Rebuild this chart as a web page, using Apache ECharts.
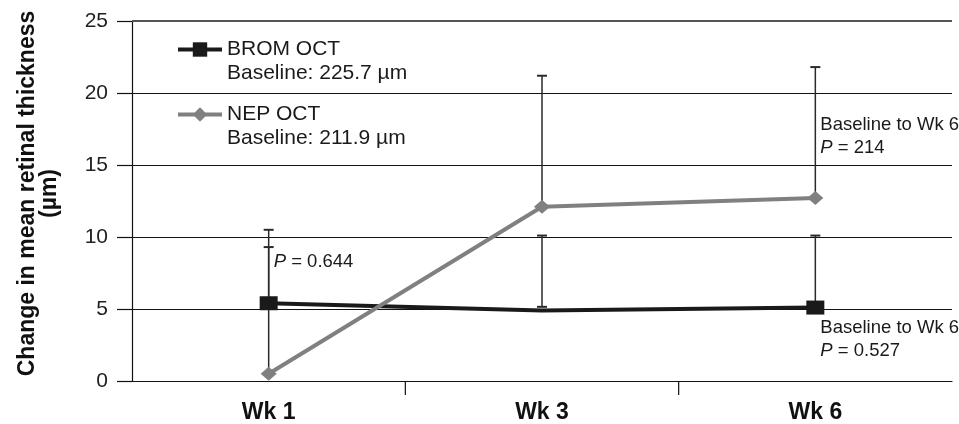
<!DOCTYPE html>
<html><head><meta charset="utf-8">
<script src="https://cdn.jsdelivr.net/npm/echarts@6/dist/echarts.min.js"></script>
<style>html,body{margin:0;padding:0;background:#fff}#c{width:959px;height:424px}</style>
</head><body><div id="c"></div>
<script>
const categories = ['Wk 1', 'Wk 3', 'Wk 6'];
const bromMean = [5.4, 4.9, 5.1];
const bromLow = [5.4, 5.15, 5.1];
const bromHigh = [9.3, 10.1, 10.1];
const nepMean = [0.5, 12.1, 12.7];
const nepHigh = [10.5, 21.2, 21.8];
const yTickValues = [0, 5, 10, 15, 20, 25];
const seriesNames = ['BROM OCT', 'NEP OCT'];
const baselineTexts = ['Baseline: 225.7 µm', 'Baseline: 211.9 µm'];
const yTitle = 'Change in mean retinal thickness\n(µm)';
const annotations = [
  { cat: 'Wk 1', y: 8.3, text: '{i|P} = 0.644' },
  { cat: 'Wk 6', y: 17.0, text: 'Baseline to Wk 6\n{i|P} = 214' },
  { cat: 'Wk 6', y: 2.9, text: 'Baseline to Wk 6\n{i|P} = 0.527' }
];

const FONT = 'Liberation Sans, Arial, sans-serif';
const chart = echarts.init(document.getElementById('c'), null, { renderer: 'canvas' });

function errRender(params, api) {
  const x = api.value(0), lo = api.value(1), hi = api.value(2);
  const pLo = api.coord([x, lo]), pHi = api.coord([x, hi]);
  const w = 5;
  return {
    type: 'group', children: [
      { type: 'line', shape: { x1: pLo[0], y1: pLo[1], x2: pHi[0], y2: pHi[1] }, style: { stroke: '#2a2a2a', lineWidth: 1.5 } },
      { type: 'line', shape: { x1: pHi[0] - w, y1: pHi[1], x2: pHi[0] + w, y2: pHi[1] }, style: { stroke: '#2a2a2a', lineWidth: 2 } },
      { type: 'line', shape: { x1: pLo[0] - w, y1: pLo[1], x2: pLo[0] + w, y2: pLo[1] }, style: { stroke: '#2a2a2a', lineWidth: 2 } }
    ]
  };
}
function tickRender(params, api) {
  const idx = api.value(0);
  const p = api.coord([idx, 0]);
  const half = api.size([1, 0])[0] / 2;
  const x = p[0] + half;
  return { type: 'line', shape: { x1: x, y1: p[1], x2: x, y2: p[1] + 14 }, style: { stroke: '#111', lineWidth: 1.2 } };
}

const bromData = bromMean.map((v, i) => i === 1 ? { value: v, symbolSize: 0 } : v);
const yMax = yTickValues[yTickValues.length - 1];

chart.setOption({
  animation: false,
  backgroundColor: '#fff',
  grid: { left: 132, right: 7, top: 21, bottom: 43 },
  legend: {
    data: seriesNames, orient: 'vertical', left: 171, top: 34,
    itemWidth: 44, itemHeight: 18, itemGap: 44,
    lineStyle: { width: 4 },
    textStyle: { fontFamily: FONT, fontSize: 21, color: '#1a1a1a', lineHeight: 18 }
  },
  xAxis: {
    type: 'category', data: categories, boundaryGap: true,
    axisLine: { lineStyle: { color: '#111', width: 1.2 } },
    axisTick: { show: false },
    axisLabel: { fontFamily: FONT, fontSize: 23, fontWeight: 'bold', color: '#111', margin: 20 }
  },
  yAxis: {
    type: 'value', min: yTickValues[0], max: yMax, interval: 5,
    name: yTitle, nameLocation: 'middle', nameGap: 71, nameRotate: 90,
    nameTextStyle: { fontFamily: FONT, fontSize: 23, fontWeight: 'bold', color: '#111', lineHeight: 22, align: 'center', padding: [0, 0, 0, 15] },
    axisLine: { show: true, lineStyle: { color: '#111', width: 1.2 } },
    axisTick: { show: true, inside: false, length: 15, lineStyle: { color: '#111', width: 1.2 } },
    axisLabel: { fontFamily: FONT, fontSize: 21, color: '#222', margin: 24 },
    splitLine: { show: true, lineStyle: { color: '#111', width: 1.2 } }
  },
  series: [
    { type: 'custom', name: 'bromErr', renderItem: errRender, z: 1, clip: false,
      data: categories.map((c, i) => [i, bromLow[i], bromHigh[i]]),
      markLine: { silent: true, symbol: 'none', label: { show: false },
        lineStyle: { color: '#555', width: 2.2, type: 'solid' }, data: [{ yAxis: yMax }] } },
    { type: 'custom', name: 'nepErr', renderItem: errRender, z: 1, clip: false,
      data: categories.map((c, i) => [i, nepMean[i], nepHigh[i]]) },
    { type: 'custom', name: 'xticks', renderItem: tickRender, z: 1, clip: false, silent: true,
      data: [[0], [1]] },
    { type: 'line', name: seriesNames[0], data: bromData, z: 3,
      symbol: 'rect', symbolSize: [18, 14],
      lineStyle: { color: '#1a1a1a', width: 4 }, itemStyle: { color: '#1a1a1a' } },
    { type: 'line', name: seriesNames[1], data: nepMean, z: 4,
      symbol: 'diamond', symbolSize: [16, 14],
      lineStyle: { color: '#808080', width: 4 }, itemStyle: { color: '#808080' } }
  ]
});

const graphics = [];
baselineTexts.forEach((t, i) => {
  graphics.push({ type: 'text', left: 227, top: 63 + i * 65,
    style: { text: t, fontFamily: FONT, fontSize: 21, fill: '#1a1a1a' } });
});
annotations.forEach(a => {
  const p = chart.convertToPixel({ gridIndex: 0 }, [a.cat, a.y]);
  graphics.push({ type: 'text', x: p[0] + 5, y: p[1],
    style: { text: a.text, fontFamily: FONT, fontSize: 18.5, fill: '#1a1a1a', lineHeight: 23, verticalAlign: 'middle',
      rich: { i: { fontStyle: 'italic', fontFamily: FONT, fontSize: 18.5, fill: '#1a1a1a' } } } });
});
chart.setOption({ graphic: graphics });
</script></body></html>
